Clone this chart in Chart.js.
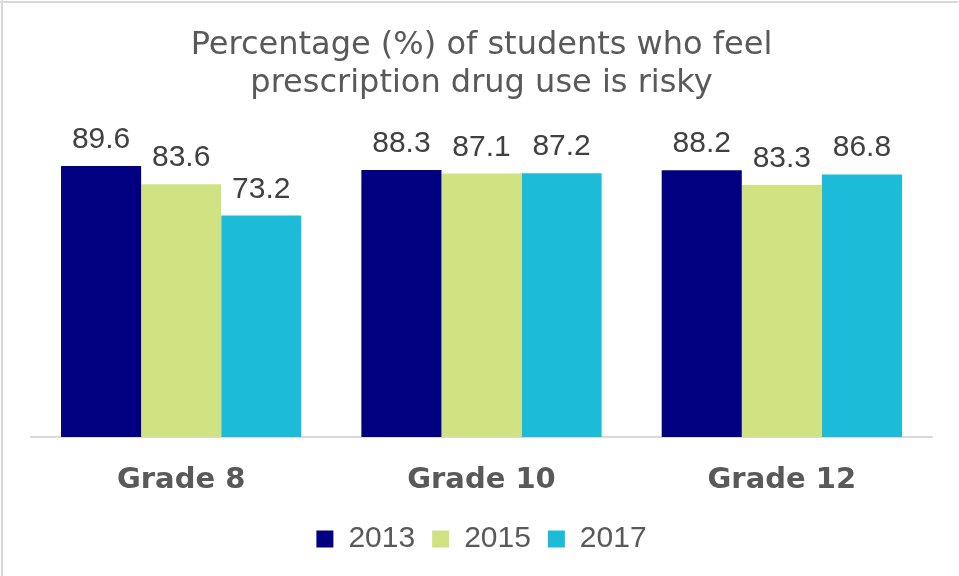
<!DOCTYPE html>
<html>
<head>
<meta charset="utf-8">
<script src="https://cdn.jsdelivr.net/npm/chart.js@4.4.1/dist/chart.umd.min.js"></script>
<style>
  html, body { margin: 0; padding: 0; background: #ffffff; }
  #wrap { width: 959px; height: 576px; position: relative; }
</style>
</head>
<body>
<div id="wrap"><canvas id="riskChart" width="959" height="576"></canvas></div>
<script>
// data
const grades = ["Grade 8", "Grade 10", "Grade 12"];
const years = ["2013", "2015", "2017"];
const values2013 = [89.6, 88.3, 88.2];
const values2015 = [83.6, 87.1, 83.3];
const values2017 = [73.2, 87.2, 86.8];
const yearColors = ["#000080", "#D1E283", "#1CBCD8"];

// thin grey frame on top / left edges, like the exported picture
const framePlugin = {
	id: "frame",
	beforeDraw(chart) {
		const ctx = chart.ctx;
		ctx.save();
		ctx.fillStyle = "#d9d9d9";
		ctx.fillRect(0, 1, 958, 2);
		ctx.fillRect(1, 0, 2, 576);
		ctx.restore();
	}
};

// value labels above each bar
const valueLabels = {
	id: "valueLabels",
	afterDatasetsDraw(chart) {
		const ctx = chart.ctx;
		ctx.save();
		ctx.font = "30px 'Liberation Sans', Arial, sans-serif";
		ctx.fillStyle = "#404040";
		ctx.textAlign = "center";
		ctx.textBaseline = "alphabetic";
		chart.data.datasets.forEach(function (ds, i) {
			chart.getDatasetMeta(i).data.forEach(function (bar, j) {
				ctx.fillText(ds.data[j].toFixed(1), bar.x, bar.y - 18);
			});
		});
		ctx.restore();
	}
};

const ctx = document.getElementById("riskChart").getContext("2d");

new Chart(ctx, {
	type: "bar",
	data: {
		labels: grades,
		datasets: [
			{ label: years[0], data: values2013, backgroundColor: yearColors[0] },
			{ label: years[1], data: values2015, backgroundColor: yearColors[1] },
			{ label: years[2], data: values2017, backgroundColor: yearColors[2] },
		],
	},
	options: {
		responsive: false,
		animation: false,
		datasets: {
			bar: {
				categoryPercentage: 0.8,
				barPercentage: 1.0,
			},
		},
		layout: {
			padding: { left: 31, right: 27, top: 0, bottom: 12 },
		},
		plugins: {
			tooltip: { enabled: false },
			title: {
				display: true,
				text: ["Percentage (%) of students who feel", "prescription drug use is risky"],
				color: "#595959",
				font: {
					family: "'DejaVu Sans', Verdana, sans-serif",
					size: 32,
					weight: "normal",
					lineHeight: 1.18,
				},
				padding: { top: 27, bottom: 32 },
			},
			legend: {
				position: "bottom",
				labels: {
					boxWidth: 17,
					boxHeight: 17,
					padding: 17,
					color: "#595959",
					font: {
						family: "'Liberation Sans', Arial, sans-serif",
						size: 30,
					},
				},
			},
		},
		scales: {
			x: {
				grid: { display: false, drawTicks: false },
				border: { display: true, color: "#d9d9d9", width: 2 },
				afterFit: function (scale) {
					scale.height = 70;
				},
				ticks: {
					padding: 26,
					color: "#595959",
					font: {
						family: "'DejaVu Sans', Verdana, sans-serif",
						size: 29,
						weight: "bold",
					},
				},
			},
			y: {
				display: false,
				min: 0,
				max: 100,
			},
		},
	},
	plugins: [framePlugin, valueLabels],
});
</script>
</body>
</html>
